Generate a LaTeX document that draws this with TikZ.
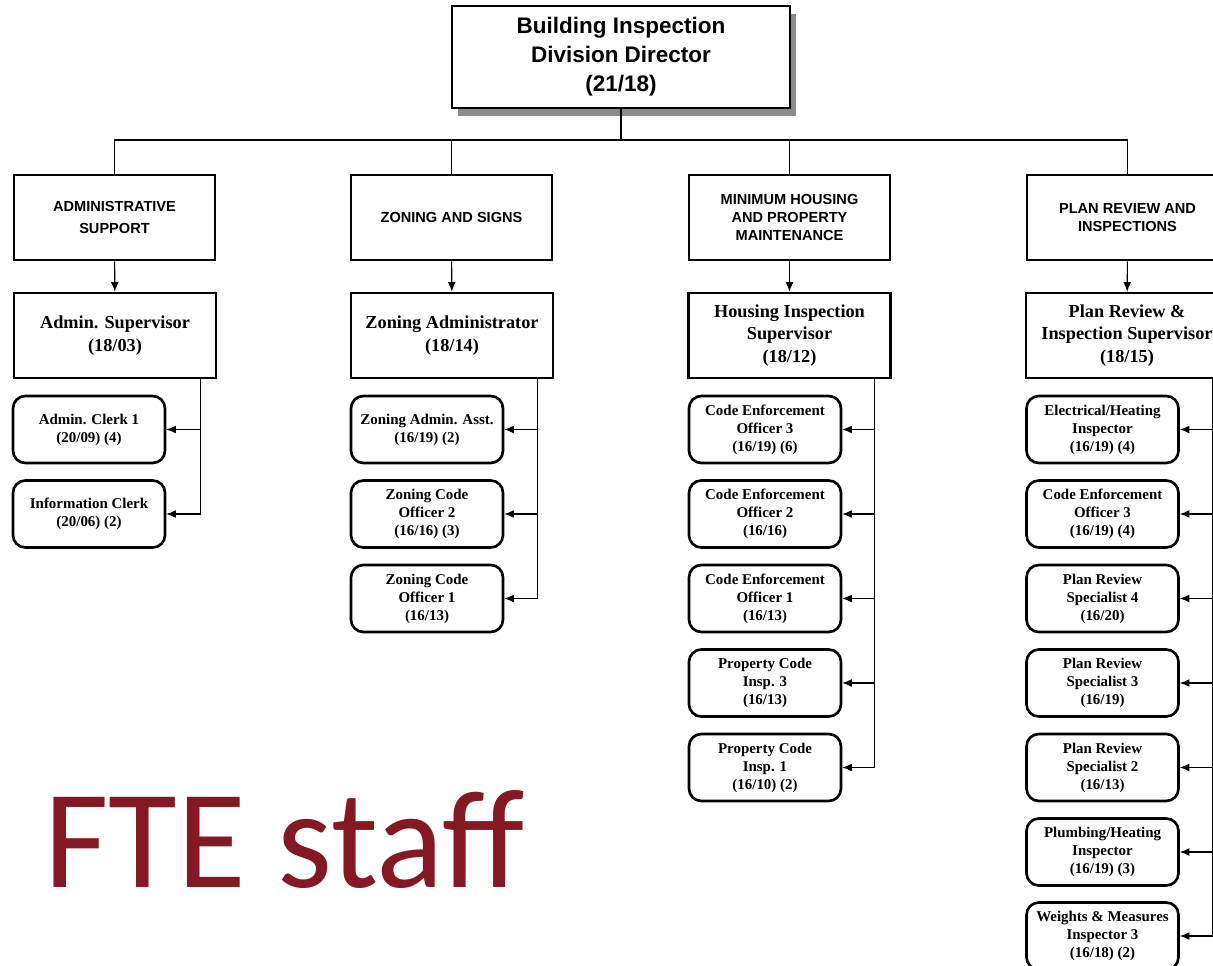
\documentclass[tikz,border=0pt]{standalone}
\usepackage{fontspec}
\setmainfont{Liberation Serif}
\newfontfamily\arialfont{Liberation Sans}
\newfontfamily\calfont{Carlito}
\usepackage{tikz}
\usetikzlibrary{shadows,arrows.meta}
\definecolor{ftered}{HTML}{841923}

\tikzset{
  dirbox/.style={draw, line width=1.5pt, fill=white, minimum width=6.76cm, minimum height=2.04cm,
    align=center, font=\arialfont\bfseries\fontsize{12.8}{16.4}\selectfont,
    drop shadow={shadow xshift=0.12cm, shadow yshift=-0.16cm, fill=black!45, opacity=1}},
  deptbox/.style={draw, line width=1.5pt, minimum width=4.02cm, minimum height=1.7cm,
    align=center, font=\arialfont\bfseries\fontsize{8.3}{10.2}\selectfont},
  supbox/.style={draw, line width=1.5pt, minimum width=4.04cm, minimum height=1.7cm,
    align=center, font=\bfseries\fontsize{10.4}{12.8}\selectfont},
  staffbox/.style={draw, line width=1.5pt, rounded corners=7pt, minimum width=3.04cm, minimum height=1.34cm,
    align=center, inner sep=1pt, font=\bfseries\fontsize{8.5}{10.2}\selectfont},
  link/.style={line width=0.6pt},
  feed/.style={line width=0.6pt, -{Latex[length=5.5pt,width=4.5pt]}}
}

\begin{document}
\begin{tikzpicture}[x=0.02cm, y=-0.02cm]
    \clip (0,0) rectangle (1213,966);
    \fill[white] (0,0) rectangle (1213,966);

    % director
    \node[dirbox] (dir) at (621,57) {Building Inspection\\Division Director\\(21/18)};
    \coordinate (bus) at (621,140);

    % departments
    \node[deptbox] (adm) at (114.5,217.5) {ADMINISTRATIVE\\[2.5pt]SUPPORT};
    \node[deptbox] (zon) at (451.5,217.5) {ZONING AND SIGNS};
    \node[deptbox] (hou) at (789.5,217.5) {MINIMUM HOUSING\\AND PROPERTY\\MAINTENANCE};
    \node[deptbox] (pln) at (1127.5,217.5) {PLAN REVIEW AND\\INSPECTIONS};

    % supervisors
    \node[supbox] (admsup) at (115,335.5) {Admin. Supervisor\\(18/03)};
    \node[supbox] (zonsup) at (452,335.5) {Zoning Administrator\\(18/14)};
    \node[supbox] (housup) at (789.5,335.5) {Housing Inspection\\Supervisor\\(18/12)};
    \node[supbox] (plnsup) at (1127,335.5) {Plan Review \&\\Inspection Supervisor\\(18/15)};

    % staff
    \node[staffbox] (admA) at (89,429.5) {Admin. Clerk 1\\(20/09) (4)};
    \node[staffbox] (admB) at (89,514) {Information Clerk\\(20/06) (2)};

    \node[staffbox] (zonA) at (427,429.5) {Zoning Admin. Asst.\\(16/19) (2)};
    \node[staffbox] (zonB) at (427,514) {Zoning Code\\Officer 2\\(16/16) (3)};
    \node[staffbox] (zonC) at (427,598.5) {Zoning Code\\Officer 1\\(16/13)};

    \node[staffbox] (houA) at (765,429.5) {Code Enforcement\\Officer 3\\(16/19) (6)};
    \node[staffbox] (houB) at (765,514) {Code Enforcement\\Officer 2\\(16/16)};
    \node[staffbox] (houC) at (765,598.5) {Code Enforcement\\Officer 1\\(16/13)};
    \node[staffbox] (houD) at (765,683) {Property Code\\Insp. 3\\(16/13)};
    \node[staffbox] (houE) at (765,767.5) {Property Code\\Insp. 1\\(16/10) (2)};

    \node[staffbox] (plnA) at (1102.5,429.5) {Electrical/Heating\\Inspector\\(16/19) (4)};
    \node[staffbox] (plnB) at (1102.5,514) {Code Enforcement\\Officer 3\\(16/19) (4)};
    \node[staffbox] (plnC) at (1102.5,598.5) {Plan Review\\Specialist 4\\(16/20)};
    \node[staffbox] (plnD) at (1102.5,683) {Plan Review\\Specialist 3\\(16/19)};
    \node[staffbox] (plnE) at (1102.5,767.5) {Plan Review\\Specialist 2\\(16/13)};
    \node[staffbox] (plnF) at (1102.5,852) {Plumbing/Heating\\Inspector\\(16/19) (3)};
    \node[staffbox] (plnG) at (1102.5,936) {Weights \& Measures\\Inspector 3\\(16/18) (2)};

    % lines
    \draw[link] (dir.south) -- (bus);
    \draw[link] (bus) -| (adm.north);
    \draw[link] (bus) -| (zon.north);
    \draw[link] (bus) -| (hou.north);
    \draw[link] (bus) -| (pln.north);

    \draw[feed] (adm) -- (admsup);
    \draw[feed] (zon) -- (zonsup);
    \draw[feed] (hou) -- (housup);
    \draw[feed] (pln) -- (plnsup);

    \foreach \c in {admA,admB}
      \draw[feed] ([xshift=-0.34cm]admsup.south east) |- (\c.east);
    \foreach \c in {zonA,zonB,zonC}
      \draw[feed] ([xshift=-0.34cm]zonsup.south east) |- (\c.east);
    \foreach \c in {houA,houB,houC,houD,houE}
      \draw[feed] ([xshift=-0.34cm]housup.south east) |- (\c.east);
    \foreach \c in {plnA,plnB,plnC,plnD,plnE,plnF,plnG}
      \draw[feed] ([xshift=-0.34cm]plnsup.south east) |- (\c.east);

    \node[anchor=base west, inner sep=0pt, text=ftered, font=\calfont\fontsize{80}{90}\selectfont] (fte) at (44,887) {FTE staff};
\end{tikzpicture}
\end{document}
